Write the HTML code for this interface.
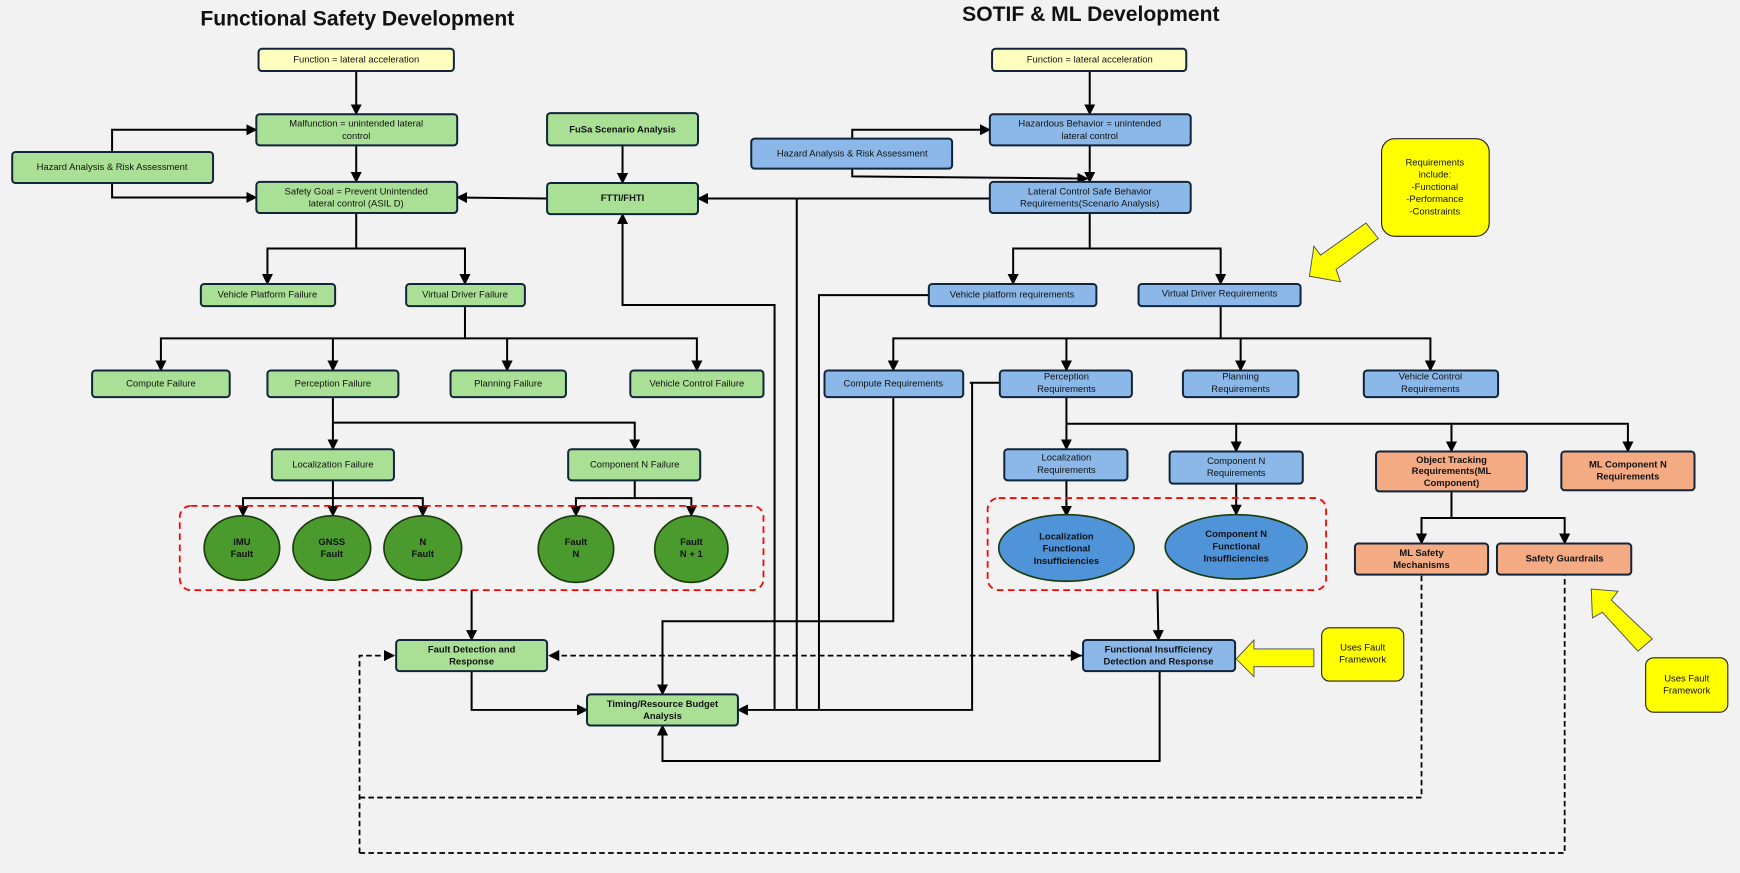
<!DOCTYPE html>
<html><head><meta charset="utf-8"><style>
html,body{margin:0;padding:0;background:#f2f2f2;}
svg{display:block}
text{font-family:"Liberation Sans",sans-serif;font-size:8.5px;fill:#111;text-anchor:middle;dominant-baseline:middle}
.b{font-weight:bold}
.bx{stroke:#10253a;stroke-width:1.8}
.g{fill:#a9e095}.y{fill:#ffffc0}.bl{fill:#8bb8e8}.o{fill:#f4ab83}
.ln{stroke:#000;stroke-width:1.8;fill:none}
.dl{stroke:#000;stroke-width:1.6;fill:none;stroke-dasharray:5,3}
</style></head><body>
<svg width="1740" height="873" viewBox="0 0 1568 787" preserveAspectRatio="none" xmlns="http://www.w3.org/2000/svg">
<defs>
<marker id="a" markerUnits="userSpaceOnUse" markerWidth="10" markerHeight="10" refX="9" refY="5" orient="auto"><path d="M0,0 L10,5 L0,10 z" fill="#000"/></marker>
</defs>
<rect width="1568" height="787" fill="#f2f2f2"/>
<text x="322" y="18" class="b" style="font-size:19px">Functional Safety Development</text>
<text x="983" y="14" class="b" style="font-size:19px">SOTIF &amp; ML Development</text>

<!-- LEFT connectors -->
<g class="ln" marker-end="url(#a)">
<path d="M321,64 L321,103"/>
<path d="M101,137 L101,117 L231,117"/>
<path d="M101,165 L101,178 L231,178"/>
<path d="M321,131 L321,164"/>
<path d="M493,179 L412,178"/>
<path d="M561,131 L561,165"/>
<path d="M321,192 L321,224 L241,224 L241,256"/>
<path d="M321,224 L419,224 L419,256"/>
<path d="M419,276 L419,305 L145,305 L145,334"/>
<path d="M300,305 L300,334"/>
<path d="M419,305 L457,305 L457,334"/>
<path d="M457,305 L628,305 L628,334"/>
<path d="M300,358 L300,381 L300,405"/>
<path d="M300,381 L572,381 L572,405"/>
<path d="M300,433 L300,449 L219,449 L219,465"/>
<path d="M300,449 L300,465"/>
<path d="M300,449 L381,449 L381,465"/>
<path d="M572,433 L572,449 L519,449 L519,465"/>
<path d="M572,449 L623,449 L623,465"/>
<path d="M425,532 L425,577"/>
<path d="M425,605 L425,640 L529,640"/>
<path d="M698,640 L698,275 L561,275 L561,193"/>
<path d="M892,179 L629,179"/>
<path d="M874,345 L876,345 L876,640 L665,640"/>
<path d="M805,358 L805,560 L597,560 L597,626"/>
<path d="M1045,605 L1045,686 L597,686 L597,654"/>
</g>
<g class="ln">
<path d="M718,179 L718,640"/>
<path d="M837,266 L738,266 L738,640"/>
<path d="M901,345 L876,345"/>
</g>
<!-- RIGHT connectors -->
<g class="ln" marker-end="url(#a)">
<path d="M982,64 L982,103"/>
<path d="M768,125 L768,117 L892,117"/>
<path d="M768,152 L768,159 L980,161"/>
<path d="M982,131 L982,164"/>
<path d="M982,192 L982,224 L913,224 L913,256"/>
<path d="M982,224 L1100,224 L1100,256"/>
<path d="M1100,276 L1100,305 L805,305 L805,334"/>
<path d="M961,305 L961,334"/>
<path d="M1100,305 L1118,305 L1118,334"/>
<path d="M1118,305 L1289,305 L1289,334"/>
<path d="M961,358 L961,405"/>
<path d="M961,382 L1114,382 L1114,407"/>
<path d="M1114,382 L1308,382 L1308,407"/>
<path d="M1308,382 L1467,382 L1467,407"/>
<path d="M961,433 L961,465"/>
<path d="M1114,436 L1114,464"/>
<path d="M1308,443 L1308,467 L1281,467 L1281,490"/>
<path d="M1308,467 L1410,467 L1410,490"/>
<path d="M1043,532 L1044,577"/>
</g>
<!-- dashed -->
<g class="dl">
<path d="M324,769 L324,591 L355,591" marker-end="url(#a)"/>
<path d="M975,591 L495,591" marker-end="url(#a)" marker-start="url(#a)"/>
<path d="M324,719 L1281,719 L1281,518"/>
<path d="M324,769 L1410,769 L1410,518"/>
</g>
<path d="M975,591 L965,586 L965,596 z" fill="#000"/>

<!-- red dashed groups -->
<rect x="162" y="456" width="526" height="76" rx="10" fill="none" stroke="#f00" stroke-width="1.6" stroke-dasharray="6,4"/>
<rect x="890" y="449" width="305" height="83" rx="10" fill="none" stroke="#f00" stroke-width="1.6" stroke-dasharray="6,4"/>

<!-- LEFT boxes -->
<rect class="bx y" x="233" y="44" width="176" height="20" rx="3"/><text x="321" y="54">Function = lateral acceleration</text>
<rect class="bx g" x="231" y="103" width="181" height="28" rx="3"/><text x="321" y="112">Malfunction = unintended lateral</text><text x="321" y="123">control</text>
<rect class="bx g" x="11" y="137" width="181" height="28" rx="3"/><text x="101" y="151">Hazard Analysis &amp; Risk Assessment</text>
<rect class="bx g" x="231" y="164" width="181" height="28" rx="3"/><text x="321" y="173">Safety Goal = Prevent Unintended</text><text x="321" y="184">lateral control  (ASIL D)</text>
<rect class="bx g" x="493" y="102" width="136" height="29" rx="3"/><text x="561" y="117" class="b">FuSa Scenario Analysis</text>
<rect class="bx g" x="493" y="165" width="136" height="28" rx="3"/><text x="561" y="179" class="b">FTTI/FHTI</text>
<rect class="bx g" x="181" y="256" width="121" height="20" rx="3"/><text x="241" y="266">Vehicle Platform Failure</text>
<rect class="bx g" x="366" y="256" width="107" height="20" rx="3"/><text x="419" y="266">Virtual Driver Failure</text>
<rect class="bx g" x="83" y="334" width="124" height="24" rx="3"/><text x="145" y="346">Compute Failure</text>
<rect class="bx g" x="241" y="334" width="118" height="24" rx="3"/><text x="300" y="346">Perception Failure</text>
<rect class="bx g" x="406" y="334" width="104" height="24" rx="3"/><text x="458" y="346">Planning Failure</text>
<rect class="bx g" x="568" y="334" width="120" height="24" rx="3"/><text x="628" y="346">Vehicle Control  Failure</text>
<rect class="bx g" x="245" y="405" width="110" height="28" rx="3"/><text x="300" y="419">Localization Failure</text>
<rect class="bx g" x="512" y="405" width="119" height="28" rx="3"/><text x="572" y="419">Component N Failure</text>
<g fill="#4a9a2e" stroke="#1d3b10" stroke-width="1.5">
<ellipse cx="218" cy="494" rx="34" ry="29"/><ellipse cx="299" cy="494" rx="35" ry="29"/><ellipse cx="381" cy="494" rx="35" ry="29"/><ellipse cx="519" cy="495" rx="34" ry="30"/><ellipse cx="623" cy="495" rx="33" ry="30"/>
</g>
<g class="b"><text x="218" y="489" class="b">IMU</text><text x="218" y="500" class="b">Fault</text>
<text x="299" y="489" class="b">GNSS</text><text x="299" y="500" class="b">Fault</text>
<text x="381" y="489" class="b">N</text><text x="381" y="500" class="b">Fault</text>
<text x="519" y="489" class="b">Fault</text><text x="519" y="500" class="b">N</text>
<text x="623" y="489" class="b">Fault</text><text x="623" y="500" class="b">N + 1</text></g>
<rect class="bx g" x="357" y="577" width="136" height="28" rx="3"/><text x="425" y="586" class="b">Fault Detection and</text><text x="425" y="597" class="b">Response</text>
<rect class="bx g" x="529" y="626" width="136" height="28" rx="3"/><text x="597" y="635" class="b">Timing/Resource Budget</text><text x="597" y="646" class="b">Analysis</text>

<!-- RIGHT boxes -->
<rect class="bx y" x="894" y="44" width="175" height="20" rx="3"/><text x="982" y="54">Function = lateral acceleration</text>
<rect class="bx bl" x="892" y="103" width="181" height="28" rx="3"/><text x="982" y="112">Hazardous Behavior = unintended</text><text x="982" y="123">lateral control</text>
<rect class="bx bl" x="677" y="125" width="181" height="27" rx="3"/><text x="768" y="139">Hazard Analysis &amp; Risk Assessment</text>
<rect class="bx bl" x="892" y="164" width="181" height="28" rx="3"/><text x="982" y="173">Lateral Control Safe Behavior</text><text x="982" y="184">Requirements(Scenario Analysis)</text>
<rect class="bx bl" x="837" y="256" width="151" height="20" rx="3"/><text x="912" y="266">Vehicle platform requirements</text>
<rect class="bx bl" x="1026" y="256" width="146" height="20" rx="3"/><text x="1099" y="265">Virtual Driver Requirements</text>
<rect class="bx bl" x="743" y="334" width="125" height="24" rx="3"/><text x="805" y="346">Compute Requirements</text>
<rect class="bx bl" x="901" y="334" width="119" height="24" rx="3"/><text x="961" y="340">Perception</text><text x="961" y="351">Requirements</text>
<rect class="bx bl" x="1066" y="334" width="104" height="24" rx="3"/><text x="1118" y="340">Planning</text><text x="1118" y="351">Requirements</text>
<rect class="bx bl" x="1229" y="334" width="121" height="24" rx="3"/><text x="1289" y="340">Vehicle Control</text><text x="1289" y="351">Requirements</text>
<rect class="bx bl" x="905" y="405" width="111" height="28" rx="3"/><text x="961" y="413">Localization</text><text x="961" y="424">Requirements</text>
<rect class="bx bl" x="1054" y="407" width="120" height="29" rx="3"/><text x="1114" y="416">Component N</text><text x="1114" y="427">Requirements</text>
<rect class="bx o" x="1240" y="407" width="136" height="36" rx="3"/><text x="1308" y="415" class="b">Object Tracking</text><text x="1308" y="425" class="b">Requirements(ML</text><text x="1308" y="436" class="b">Component)</text>
<rect class="bx o" x="1407" y="407" width="120" height="35" rx="3"/><text x="1467" y="419" class="b">ML Component N</text><text x="1467" y="430" class="b">Requirements</text>
<g fill="#4f93d9" stroke="#1d3b10" stroke-width="1.5">
<ellipse cx="961" cy="494" rx="61" ry="30"/><ellipse cx="1114" cy="493" rx="64" ry="29"/>
</g>
<text x="961" y="484" class="b">Localization</text><text x="961" y="495" class="b">Functional</text><text x="961" y="506" class="b">Insufficiencies</text>
<text x="1114" y="482" class="b">Component N</text><text x="1114" y="493" class="b">Functional</text><text x="1114" y="504" class="b">Insufficiencies</text>
<rect class="bx o" x="1221" y="490" width="120" height="28" rx="3"/><text x="1281" y="499" class="b">ML Safety</text><text x="1281" y="510" class="b">Mechanisms</text>
<rect class="bx o" x="1349" y="490" width="121" height="28" rx="3"/><text x="1410" y="504" class="b">Safety Guardrails</text>
<rect class="bx bl" x="976" y="577" width="137" height="28" rx="3"/><text x="1044" y="586" class="b">Functional Insufficiency</text><text x="1044" y="597" class="b">Detection and Response</text>

<!-- yellow notes -->
<rect x="1245" y="125" width="97" height="88" rx="12" fill="#ffff00" stroke="#222" stroke-width="1"/>
<text x="1293" y="147">Requirements</text><text x="1293" y="158">include:</text><text x="1293" y="169">-Functional</text><text x="1293" y="180">-Performance</text><text x="1293" y="191">-Constraints</text>
<polygon points="1180,249 1184,222 1190,230 1231,201 1242,215 1204,243 1208,254" fill="#ffff00" stroke="#445" stroke-width="0.8"/>
<polygon points="1114,594 1130,577 1130,585 1184,585 1184,601 1130,601 1130,610" fill="#ffff00" stroke="#445" stroke-width="0.8"/>
<rect x="1191" y="566" width="74" height="48" rx="7" fill="#ffff00" stroke="#222" stroke-width="1"/>
<text x="1228" y="584">Uses Fault</text><text x="1228" y="595">Framework</text>
<polygon points="1434,531 1458,533 1452,541 1489,576 1476,587 1444,552 1435,557" fill="#ffff00" stroke="#445" stroke-width="0.8"/>
<rect x="1483" y="593" width="74" height="49" rx="7" fill="#ffff00" stroke="#222" stroke-width="1"/>
<text x="1520" y="612">Uses Fault</text><text x="1520" y="623">Framework</text>
</svg>
</body></html>
